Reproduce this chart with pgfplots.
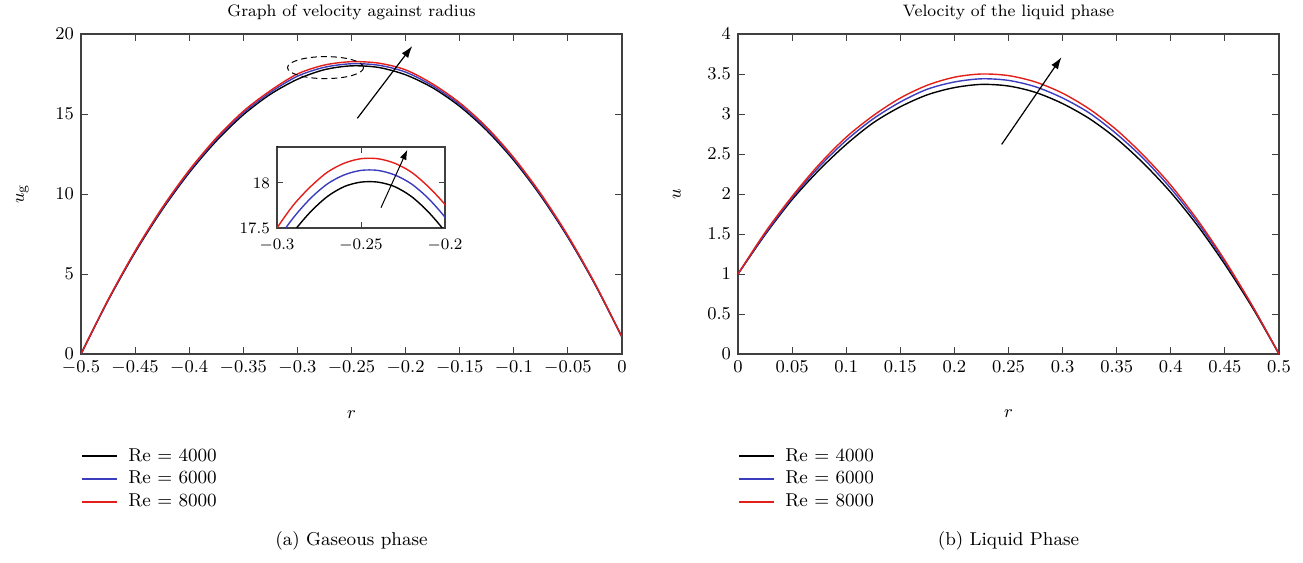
\documentclass[border=0pt]{standalone}
\usepackage{pgfplots}
\usepackage{pgfplotstable}
\pgfplotsset{compat=1.18}
\usetikzlibrary{arrows.meta}

\definecolor{reblue}{RGB}{60,60,190}
\definecolor{rered}{RGB}{228,30,25}

% gaseous phase, u_g against r
\pgfplotstableread{
r u4 u6 u8
-0.5 0 0 0
-0.475 3.34 3.36 3.39
-0.45 6.35 6.40 6.44
-0.425 9.01 9.07 9.14
-0.4 11.33 11.41 11.49
-0.375 13.31 13.41 13.50
-0.35 14.95 15.06 15.17
-0.325 16.23 16.35 16.46
-0.3 17.17 17.36 17.50
-0.275 17.77 17.92 18.06
-0.25 18.01 18.14 18.27
-0.225 17.91 18.05 18.18
-0.2 17.45 17.62 17.76
-0.175 16.64 16.76 16.88
-0.15 15.48 15.59 15.70
-0.125 13.97 14.07 14.17
-0.1 12.10 12.19 12.27
-0.075 9.87 9.94 10.01
-0.05 7.29 7.34 7.40
-0.025 4.35 4.38 4.41
0 1.05 1.06 1.07
}\gas

% close-up near the peak
\pgfplotstableread{
r u4 u6 u8
-0.31 16.85 17.05 17.19
-0.30 17.18 17.36 17.50
-0.29 17.46 17.62 17.76
-0.28 17.68 17.83 17.96
-0.27 17.85 17.99 18.12
-0.26 17.96 18.09 18.22
-0.25 18.01 18.14 18.27
-0.24 18.01 18.14 18.27
-0.23 17.96 18.09 18.22
-0.22 17.85 17.99 18.12
-0.21 17.68 17.83 17.96
-0.20 17.46 17.62 17.76
-0.19 17.18 17.36 17.50
}\gaszoom

% liquid phase, u against r
\pgfplotstableread{
r u4 u6 u8
0 1.00 1.00 1.00
0.025 1.49 1.50 1.52
0.05 1.93 1.95 1.97
0.075 2.30 2.34 2.37
0.1 2.62 2.67 2.71
0.125 2.89 2.94 2.98
0.15 3.09 3.15 3.20
0.175 3.24 3.31 3.36
0.2 3.33 3.40 3.46
0.225 3.37 3.44 3.50
0.25 3.35 3.42 3.48
0.275 3.27 3.34 3.40
0.3 3.13 3.20 3.26
0.325 2.94 3.01 3.06
0.35 2.69 2.75 2.80
0.375 2.38 2.44 2.48
0.4 2.02 2.07 2.11
0.425 1.60 1.64 1.67
0.45 1.12 1.15 1.17
0.475 0.59 0.61 0.61
0.5 0 0 0
}\liq

\pgfplotsset{
  panel/.style={
    scale only axis, width=270.5pt, height=160pt,
    axis line style={black!75, line width=0.6pt},
    tick style={black!75, line width=0.5pt},
    major tick length=3.5pt,
    tick label style={font=\fontsize{9.3}{11}\selectfont},
    label style={font=\fontsize{9.3}{11}\selectfont},
    scaled ticks=false,
    /pgf/number format/fixed,
    /pgf/number format/precision=2,
    xlabel={$r$},
    xlabel style={yshift=-11.5pt},
    ylabel style={yshift=6.5pt},
    legend style={draw=none, fill=none, at={(0,0)}, anchor=north west,
      yshift=-45pt, inner sep=0pt, font=\fontsize{9.3}{11}\selectfont,
      row sep=-0.5pt, /tikz/every odd column/.append style={column sep=3pt}},
    legend cell align=left,
    legend image code/.code={\draw[##1, line width=1pt] (0pt,0pt) -- (17.5pt,0pt);},
  },
  curve/.style={line width=0.7pt, smooth},
}

\begin{document}
\begin{tikzpicture}
\useasboundingbox (0,0) rectangle (651.5pt,281.5pt);

\begin{axis}[panel, at={(40.5pt,104.5pt)}, anchor=south west,
  xmin=-0.5, xmax=0, ymin=0, ymax=20,
  xtick={-0.5,-0.45,...,0.01}, ytick={0,5,...,20},
  ylabel={$u_{\mathrm{g}}$}]
\addplot[curve, black] table[x=r,y=u4] {\gas};
\addplot[curve, reblue] table[x=r,y=u6] {\gas};
\addplot[curve, rered] table[x=r,y=u8] {\gas};
\legend{Re = 4000, Re = 6000, Re = 8000}
\draw[dashed, dash pattern=on 3pt off 2pt, line width=0.5pt]
  (axis cs:-0.274,17.9) ellipse [x radius=19pt, y radius=5.5pt];
\coordinate (ellb) at (axis cs:-0.2735,17.15);
\draw[-{Latex[length=6pt,width=4pt]}, line width=0.6pt]
  (axis cs:-0.2446,14.73) -- (axis cs:-0.1938,19.25);
\end{axis}

\begin{axis}[at={(138.5pt,167.5pt)}, anchor=south west,
  scale only axis, width=84pt, height=40.5pt,
  axis line style={black!75, line width=0.6pt},
  tick style={black!75, line width=0.5pt},
  major tick length=3pt,
  tick label style={font=\fontsize{8}{9}\selectfont},
  scaled ticks=false,
  /pgf/number format/fixed,
  /pgf/number format/precision=2,
  xmin=-0.3, xmax=-0.2, ymin=17.5, ymax=18.4,
  xtick={-0.3,-0.25,-0.2}, ytick={17.5,18},
  xticklabel style={yshift=-2pt}]
\addplot[curve, black] table[x=r,y=u4] {\gaszoom};
\addplot[curve, reblue] table[x=r,y=u6] {\gaszoom};
\addplot[curve, rered] table[x=r,y=u8] {\gaszoom};
\draw[-{Latex[length=5pt,width=3.5pt]}, line width=0.5pt]
  (axis cs:-0.2381,17.726) -- (axis cs:-0.2224,18.37);
\draw[line width=0.5pt] (rel axis cs:0,1) -- (ellb);
\end{axis}

\begin{axis}[panel, at={(369pt,104.5pt)}, anchor=south west,
  xmin=0, xmax=0.5, ymin=0, ymax=4,
  xtick={0,0.05,...,0.51}, ytick={0,0.5,...,4},
  ylabel={$u$}]
\addplot[curve, black] table[x=r,y=u4] {\liq};
\addplot[curve, reblue] table[x=r,y=u6] {\liq};
\addplot[curve, rered] table[x=r,y=u8] {\liq};
\legend{Re = 4000, Re = 6000, Re = 8000}
\draw[-{Latex[length=6pt,width=4pt]}, line width=0.6pt]
  (axis cs:0.2437,2.62) -- (axis cs:0.299,3.71);
\end{axis}

\node[anchor=base, font=\fontsize{8.3}{10}\selectfont] at (175.75pt,273pt) {Graph of velocity against radius};
\node[anchor=base, font=\fontsize{8.3}{10}\selectfont] at (504.25pt,273pt) {Velocity of the liquid phase};
\node[anchor=base, font=\fontsize{9.3}{11}\selectfont] at (175.75pt,9pt) {(a) Gaseous phase};
\node[anchor=base, font=\fontsize{9.3}{11}\selectfont] at (504.25pt,9pt) {(b) Liquid Phase};
\end{tikzpicture}
\end{document}
